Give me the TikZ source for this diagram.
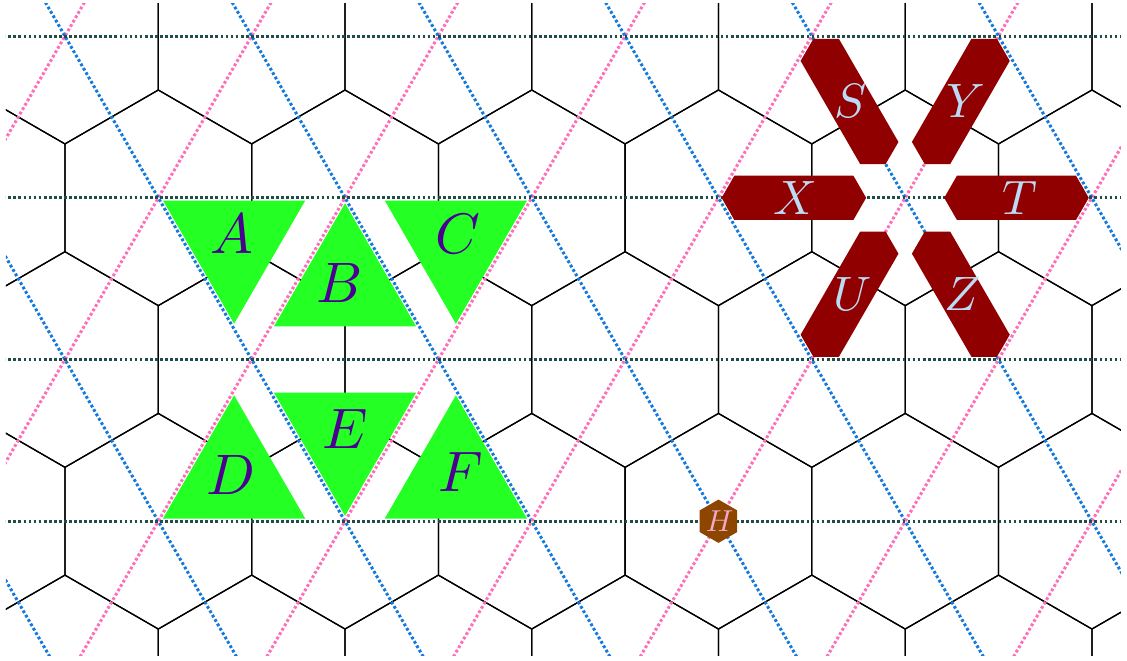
\documentclass[tikz,border=0pt]{standalone}
\usepackage{xcolor}
\definecolor{rowteal}{HTML}{1F4D4A}
\definecolor{risepink}{HTML}{FF6EB8}
\definecolor{fallblue}{HTML}{1479DC}
\definecolor{trigreen}{HTML}{24FF24}
\definecolor{triviolet}{HTML}{4B0092}
\definecolor{bardark}{HTML}{910000}
\definecolor{barpale}{HTML}{BCDCF5}
\definecolor{hexbrown}{HTML}{8C4600}
\definecolor{hexpink}{HTML}{F4A6CC}
\font\trifont=cmmi10 at 22.6pt
\font\barfont=cmmi10 at 19.1pt
\font\hexfont=cmmi10 at 12pt
\usetikzlibrary{shapes.geometric, calc}

\begin{document}
\begin{tikzpicture}[
    x=1.5cm, y=1.5cm,
    hexcell/.style={black, line width=0.5pt},
    dots/.style={line width=1.2pt, dash pattern=on 1.1pt off 0.9pt},
    rowline/.style={dots, rowteal},
    riseline/.style={dots, risepink},
    fallline/.style={dots, fallblue},
    tri/.style={fill=trigreen},
    trilbl/.style={
        text=triviolet,
        inner sep=0pt,
        font=\trifont,
    },
    bar/.style={fill=bardark},
    barlbl/.style={
        text=barpale,
        inner sep=0pt,
        font=\barfont,
    },
    hexmark/.style={
        regular polygon,
        regular polygon sides=6,
        shape border rotate=30,
        minimum size=0.603cm,
        inner sep=0pt,
        fill=hexbrown,
        text=hexpink,
        font=\hexfont,
    },
]

\useasboundingbox (-1.4685,-4.288) rectangle (8.986,1.835);
\clip (-1.413,-4.250) rectangle (8.930,1.807);

\foreach \m in {-3,...,2} {
    \pgfmathsetmacro{\off}{mod(abs(\m),2)*0.8660}
    \foreach \i in {-2,...,6} {
        \draw[hexcell] ({\i*1.7321+\off},{1.5*\m}) +(30:1) -- +(90:1) -- +(150:1)
            -- +(210:1) -- +(270:1) -- +(330:1) -- cycle;
    }
}

\foreach \k in {-6,-4,...,14} {
    \draw[riseline] ({\k*0.8660-2.598},-4.5) -- ({\k*0.8660+1.299},2.25);
    \draw[fallline] ({\k*0.8660+2.598},-4.5) -- ({\k*0.8660-1.299},2.25);
}
\foreach \m in {-2,...,1}
    \draw[rowline] (-2,{1.5*\m}) -- (10,{1.5*\m});

\coordinate (up1) at (0,0);
\coordinate (up2) at (1.7321,0);
\coordinate (up3) at (3.4641,0);
\coordinate (lo1) at (0,-3);
\coordinate (lo2) at (1.7321,-3);
\coordinate (lo3) at (3.4641,-3);

\fill[tri] ($(up1)+(-30:0.05)$) -- ++(0:1.32) -- ++(240:1.32) -- cycle;
\fill[tri] ($(up2)+(270:0.05)$) -- ++(240:1.32) -- ++(0:1.32) -- cycle;
\fill[tri] ($(up3)+(210:0.05)$) -- ++(180:1.32) -- ++(300:1.32) -- cycle;
\fill[tri] ($(lo1)+(30:0.05)$) -- ++(0:1.32) -- ++(120:1.32) -- cycle;
\fill[tri] ($(lo2)+(90:0.05)$) -- ++(60:1.32) -- ++(180:1.32) -- cycle;
\fill[tri] ($(lo3)+(150:0.05)$) -- ++(180:1.32) -- ++(60:1.32) -- cycle;

\node[trilbl] (triA) at (0.684,-0.340) {A};
\node[trilbl] (triB) at (1.670,-0.790) {B};
\node[trilbl] (triC) at (2.757,-0.336) {C};
\node[trilbl] (triD) at (0.665,-2.567) {D};
\node[trilbl] (triE) at (1.718,-2.148) {E};
\node[trilbl] (triF) at (2.771,-2.541) {F};

\coordinate (star) at (6.9282,0);
\foreach \a in {0,60,...,300}
    \fill[bar, shift={(star)}, rotate=\a] (0.362,0) -- (0.48,0.205) -- (1.585,0.205)
        -- (1.703,0) -- (1.585,-0.205) -- (0.48,-0.205) -- cycle;
\foreach \a/\t in {0/T,60/Y,120/S,180/X,240/U,300/Z}
    \node[barlbl] (bar\t) at ($(star)+(\a:1.033)$) {\t};

\node[hexmark] (hexH) at (5.1962,-3) {H};

\end{tikzpicture}
\end{document}
